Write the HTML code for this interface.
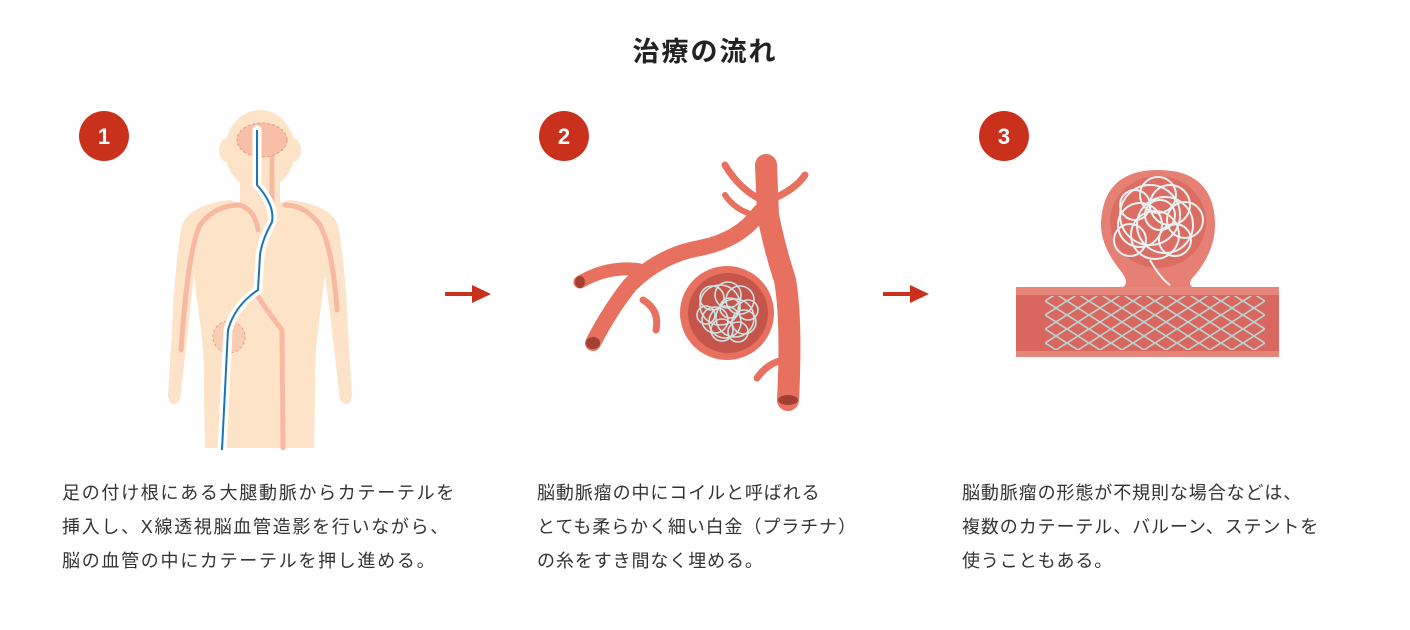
<!DOCTYPE html>
<html><head><meta charset="utf-8">
<style>
html,body{margin:0;padding:0;background:#fff;}
body{width:1410px;height:630px;position:relative;overflow:hidden;font-family:"Liberation Sans","Noto Sans CJK JP",sans-serif;color:#333;}
.t{position:absolute;font-size:18px;line-height:34px;white-space:nowrap;letter-spacing:0.9px;}
.title{position:absolute;left:0;width:1410px;top:30px;text-align:center;font-size:27px;font-weight:bold;color:#222;letter-spacing:2px;}
svg{position:absolute;left:0;top:0;}
</style></head><body>
<svg width="1410" height="630" viewBox="0 0 1410 630">
<defs>
<pattern id="mesh" width="22" height="14" patternUnits="userSpaceOnUse">
<path d="M0 0 L11 7 L22 0 M0 14 L11 7 L22 14" stroke="#b9d3d3" stroke-width="1.6" fill="none"/>
</pattern>
</defs>
<g font-family="Liberation Sans, sans-serif" font-weight="bold" font-size="22" fill="#fff" text-anchor="middle">
<circle cx="104" cy="136" r="25" fill="#c9311d"/><text x="104" y="144">1</text>
<circle cx="564" cy="136" r="25" fill="#c9311d"/><text x="564" y="144">2</text>
<circle cx="1004" cy="136" r="25" fill="#c9311d"/><text x="1004" y="144">3</text>
</g>
<g fill="#c9311d">
<rect x="445" y="292" width="30" height="4"/><polygon points="472,285 491,294 472,303"/>
<rect x="883" y="292" width="30" height="4"/><polygon points="910,285 929,294 910,303"/>
</g>
<g fill="#fde3c7">
<ellipse cx="260" cy="150" rx="35" ry="40"/>
<ellipse cx="227" cy="150" rx="8" ry="12"/><ellipse cx="293" cy="150" rx="8" ry="12"/>
<rect x="240" y="170" width="40" height="40"/>
<path d="M230 200 Q260 210 290 200 Q330 205 338 225 Q345 260 348 330 L352 395 Q350 410 340 400 L332 330 L325 275 L318 330 Q315 350 315 390 L314 448 L205 448 L204 390 Q204 350 201 330 L194 275 L188 330 L180 400 Q170 410 168 395 L172 330 Q175 260 182 225 Q190 205 230 200Z"/>
</g>
<g fill="none" stroke="#f8b9a2" stroke-width="5" stroke-linecap="round">
<path d="M181 350 Q188 250 200 225 Q215 205 240 205 Q255 210 258 230"/>
<path d="M337 310 Q333 250 320 225 Q305 205 285 205"/>
<path d="M272 155 L272 210"/>
<path d="M257 295 Q270 315 282 330 L283 448"/>
</g>
<ellipse cx="262" cy="140" rx="25" ry="17" fill="#f8bfa8" stroke="#e99a85" stroke-dasharray="3 2"/>
<circle cx="229" cy="337" r="16" fill="#f8cdb4" stroke="#e9a58f" stroke-dasharray="3 2"/>
<path d="M257 130 L257 185 Q275 205 272 222 Q262 240 260 255 L258 290 Q235 305 228 330 L222 450" fill="none" stroke="#fff" stroke-width="9" stroke-linecap="round"/>
<path d="M257 130 L257 185 Q275 205 272 222 Q262 240 260 255 L258 290 Q235 305 228 330 L222 450" fill="none" stroke="#1b74b8" stroke-width="2"/>
<g fill="none" stroke="#e8705e" stroke-linecap="round">
<path d="M766 165 L768 215 Q775 250 785 280 Q792 320 788 400" stroke-width="22"/>
<path d="M760 212 Q740 240 700 248 Q660 255 630 285 Q610 310 593 343" stroke-width="16"/>
<path d="M640 270 Q610 265 580 282" stroke-width="13"/>
<path d="M643 300 Q660 310 656 330" stroke-width="7"/>
<path d="M762 200 Q740 190 725 165" stroke-width="7"/>
<path d="M770 200 Q795 190 805 175" stroke-width="7"/>
<path d="M754 215 Q735 210 725 195" stroke-width="6"/>
<path d="M788 360 Q770 360 757 378" stroke-width="7"/>
</g>
<ellipse cx="580" cy="282" rx="5" ry="6" fill="#a33f33"/>
<ellipse cx="593" cy="343" rx="7" ry="6" fill="#a33f33"/>
<ellipse cx="788" cy="400" rx="10" ry="5" fill="#a33f33"/>
<circle cx="727" cy="313" r="47" fill="#e8705e"/>
<circle cx="728" cy="313" r="40" fill="#c5554a"/>
<g fill="none" stroke="#cfe3e3" stroke-width="1.6">
<circle cx="720" cy="305" r="20"/><circle cx="735" cy="318" r="19"/><circle cx="725" cy="322" r="16"/>
<circle cx="740" cy="300" r="14"/><circle cx="715" cy="320" r="13"/><circle cx="730" cy="308" r="10"/>
<circle cx="722" cy="330" r="11"/><circle cx="744" cy="322" r="12"/>
<circle cx="712" cy="298" r="12"/><circle cx="748" cy="310" r="10"/><circle cx="728" cy="295" r="13"/>
<circle cx="706" cy="315" r="9"/><circle cx="738" cy="332" r="10"/>
</g>
<path d="M1120 270 Q1100 245 1101 222 Q1104 170 1158 170 Q1213 170 1215 222 Q1216 250 1195 275 Q1185 285 1195 288 L1120 288 Q1132 285 1120 270Z" fill="#e67f74"/>
<ellipse cx="1158" cy="222" rx="48" ry="46" fill="#dc6d63"/>
<rect x="1016" y="287" width="263" height="70" fill="#e68579"/>
<rect x="1016" y="295" width="263" height="56" fill="#d9675f"/>
<rect x="1045" y="296" width="220" height="54" fill="url(#mesh)"/>
<g fill="none" stroke="#e9f2f2" stroke-width="2">
<circle cx="1150" cy="215" r="30"/><circle cx="1165" cy="225" r="28"/><circle cx="1155" cy="235" r="24"/>
<circle cx="1170" cy="205" r="20"/><circle cx="1140" cy="225" r="22"/><circle cx="1160" cy="215" r="15"/>
<circle cx="1175" cy="240" r="16"/><circle cx="1135" cy="205" r="15"/>
<circle cx="1185" cy="220" r="18"/><circle cx="1130" cy="240" r="16"/><circle cx="1158" cy="195" r="18"/>
<path d="M1150 260 Q1160 278 1170 285"/>
</g>
</svg>
<div class="title">治療の流れ</div>
<div class="t" style="left:62px;top:476px;letter-spacing:1.7px;">足の付け根にある大腿動脈からカテーテルを<br>挿入し、X線透視脳血管造影を行いながら、<br>脳の血管の中にカテーテルを押し進める。</div>
<div class="t" style="left:537px;top:476px;">脳動脈瘤の中にコイルと呼ばれる<br>とても柔らかく細い白金（プラチナ）<br>の糸をすき間なく埋める。</div>
<div class="t" style="left:962px;top:476px;">脳動脈瘤の形態が不規則な場合などは、<br>複数のカテーテル、バルーン、ステントを<br>使うこともある。</div>
</body></html>
